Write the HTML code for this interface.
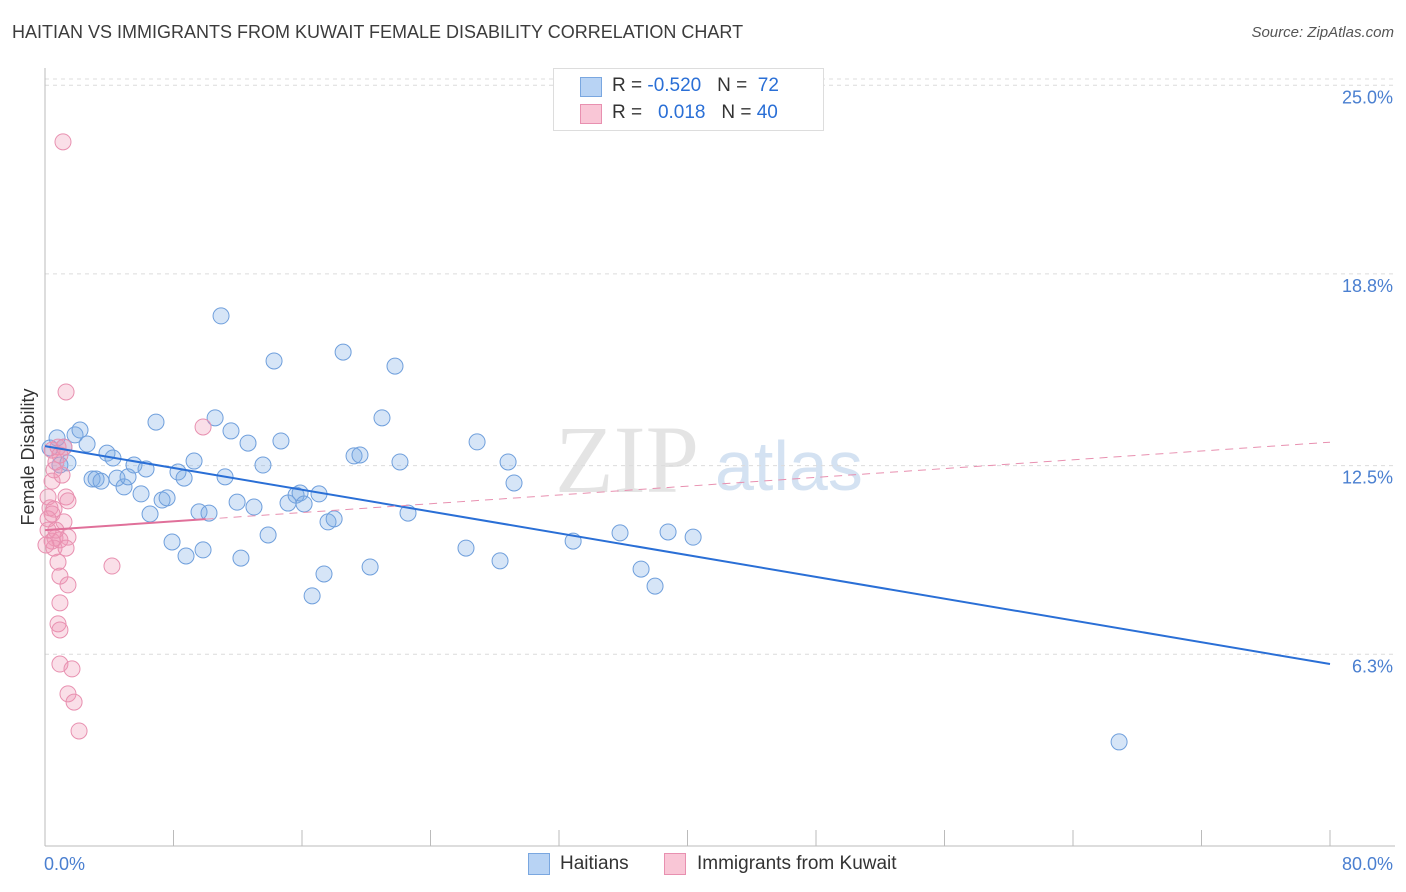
<!DOCTYPE html>
<html><head><meta charset="utf-8"><style>
body{margin:0;background:#fff;font-family:"Liberation Sans",sans-serif;}
#wrap{position:relative;width:1406px;height:892px;overflow:hidden;}
.t{position:absolute;white-space:nowrap;}
</style></head><body>
<div id="wrap">
<div class="t" style="left:12px;top:22px;font-size:18px;color:#3c3c3c;">HAITIAN VS IMMIGRANTS FROM KUWAIT FEMALE DISABILITY CORRELATION CHART</div>
<div class="t" style="right:12px;top:24px;font-size:15px;color:#555;font-style:italic;">Source: ZipAtlas.com</div>
<svg id="svg" width="1406" height="892" style="position:absolute;left:0;top:0"></svg>
</div>
<script>
const blueX=[0.31,0.75,0.93,1.18,1.43,1.87,2.18,2.62,2.93,3.18,3.49,3.86,4.23,4.48,4.92,5.17,5.54,5.98,6.29,6.54,6.91,7.29,7.60,7.91,8.28,8.66,8.78,9.28,9.59,9.84,10.21,10.59,10.96,11.21,11.58,11.96,12.20,12.64,13.01,13.57,13.89,14.26,14.69,15.13,15.63,15.88,16.13,16.63,17.06,17.37,17.62,18.00,18.56,19.24,19.61,20.24,20.98,21.79,22.10,22.60,26.21,26.90,28.33,28.83,29.20,32.88,35.80,37.11,37.98,38.79,40.35,66.87];
const blueY=[13.08,13.41,12.52,13.11,12.59,13.51,13.67,13.21,12.06,12.06,11.99,12.91,12.75,12.09,11.80,12.13,12.52,11.57,12.39,10.91,13.93,11.37,11.44,9.99,12.29,12.09,9.53,12.65,10.98,9.73,10.94,14.07,17.42,12.13,13.64,11.30,9.46,13.24,11.14,12.52,10.22,15.94,13.31,11.27,11.53,11.60,11.24,8.22,11.57,8.94,10.65,10.75,16.23,12.82,12.85,9.17,14.07,15.77,12.62,10.94,9.79,13.28,9.37,12.62,11.93,10.02,10.29,9.10,8.54,10.32,10.15,3.42];
const pinkX=[1.12,1.31,9.84,0.44,0.81,1.18,0.56,0.44,0.19,1.31,1.43,0.31,0.56,0.44,0.19,1.18,0.62,1.43,0.44,0.93,0.56,1.31,0.81,0.93,1.43,4.17,0.93,0.81,0.93,0.93,1.68,1.43,1.81,2.12,0.68,0.93,1.06,0.19,0.68,0.06];
const pinkY=[23.14,14.92,13.77,13.01,13.11,13.11,12.36,11.99,11.47,11.47,11.34,11.11,11.07,10.91,10.75,10.65,10.12,10.15,10.02,10.06,9.79,9.79,9.33,8.87,8.58,9.20,7.99,7.30,7.10,5.98,5.82,5.00,4.73,3.78,12.62,12.85,12.19,10.38,10.38,9.89];
const blueTrend=[13.14,5.98];
const pinkTrend=[10.38,13.27];
const yTicks=[25.0,18.8,12.5,6.3];
const yTickLabels=["25.0%","18.8%","12.5%","6.3%"];
const xLabels=["0.0%","80.0%"];
const NS="http://www.w3.org/2000/svg";
const svg=document.getElementById('svg');
const X=v=>45+v*(1285/80);
const Y=v=>846-v*30.43;
function mk(tag,attrs,parent){const e=document.createElementNS(NS,tag);for(const k in attrs)e.setAttribute(k,attrs[k]);(parent||svg).appendChild(e);return e;}
// watermark
let wm=mk('text',{x:555,y:492,'font-size':96,fill:'#e4e4e4','font-family':'Liberation Serif, serif'});wm.textContent='ZIP';


let wm2=mk('text',{x:715,y:490,'font-size':70,fill:'#d4e2f2','font-family':'Liberation Sans, sans-serif'});wm2.textContent='atlas';


// grid
yTicks.forEach((t,i)=>{
  const g=mk('line',{x1:45,x2:1395,y1:Y(t),y2:Y(t),stroke:'#dcdcdc','stroke-dasharray':'4,4'});
  
  
  const l=mk('text',{x:1393,y:Y(t)+18,'text-anchor':'end','font-size':18,fill:'#4a7fd0','font-family':'Liberation Sans, sans-serif'});
  l.textContent=yTickLabels[i];
  
  
});
const topLine=mk('line',{x1:45,x2:1395,y1:79,y2:79,stroke:'#dcdcdc','stroke-dasharray':'4,4'});


// axes
const ya=mk('line',{x1:45,x2:45,y1:68,y2:846,stroke:'#bbb'});


const xa=mk('line',{x1:45,x2:1395,y1:846,y2:846,stroke:'#bbb'});


for(let i=1;i<=10;i++){const tk=mk('line',{x1:X(i*8),x2:X(i*8),y1:830,y2:846,stroke:'#bbb'});

}
[[X(0)-1,'start',0],[1393,'end',1]].forEach(([x,a,i])=>{const l=mk('text',{x:x,y:870,'text-anchor':a,'font-size':18,fill:'#4a7fd0','font-family':'Liberation Sans, sans-serif'});l.textContent=xLabels[i];

});
const yt=mk('text',{x:34,y:457,'text-anchor':'middle','font-size':18,fill:'#333','font-family':'Liberation Sans, sans-serif',transform:'rotate(-90 34 457)'});yt.textContent='Female Disability';


// points
blueX.forEach((x,i)=>{const c=mk('circle',{cx:X(x),cy:Y(blueY[i]),r:8,fill:'rgba(120,170,230,0.3)',stroke:'#6f9fdc','stroke-width':1});

});
pinkX.forEach((x,i)=>{const c=mk('circle',{cx:X(x),cy:Y(pinkY[i]),r:8,fill:'rgba(240,150,180,0.3)',stroke:'#e890b0','stroke-width':1});

});
// trends
const bt=mk('line',{x1:X(0),y1:Y(blueTrend[0]),x2:X(80),y2:Y(blueTrend[1]),stroke:'#2a6fd6','stroke-width':2});


const pAt=v=>pinkTrend[0]+(pinkTrend[1]-pinkTrend[0])*v/80;
const pd=mk('line',{x1:X(10),y1:Y(pAt(10)),x2:X(80),y2:Y(pinkTrend[1]),stroke:'#e890b0','stroke-width':1,'stroke-dasharray':'8,6'});


const ps=mk('line',{x1:X(0),y1:Y(pinkTrend[0]),x2:X(10),y2:Y(pAt(10)),stroke:'#e0709a','stroke-width':2});


</script>
<div class="t" style="left:553px;top:68px;width:269px;height:61px;border:1px solid #ddd;background:#fff;">
 <div class="t" style="left:26px;top:8px;width:20px;height:18px;background:#b8d3f4;border:1px solid #7aa7e0;"></div>
 <div class="t" style="left:58px;top:6px;font-size:19px;color:#333;">R = <span style="color:#2a6fd6">-0.520</span>&nbsp;&nbsp;&nbsp;N = &nbsp;<span style="color:#2a6fd6">72</span></div>
 <div class="t" style="left:26px;top:35px;width:20px;height:18px;background:#f9c6d6;border:1px solid #e890b0;"></div>
 <div class="t" style="left:58px;top:33px;font-size:19px;color:#333;">R = &nbsp;&nbsp;<span style="color:#2a6fd6">0.018</span>&nbsp;&nbsp;&nbsp;N = <span style="color:#2a6fd6">40</span></div>
</div>
<div class="t" style="left:528px;top:853px;width:20px;height:20px;background:#b8d3f4;border:1px solid #7aa7e0;"></div>
<div class="t" style="left:560px;top:853px;font-size:19px;color:#333;">Haitians</div>
<div class="t" style="left:664px;top:853px;width:20px;height:20px;background:#f9c6d6;border:1px solid #e890b0;"></div>
<div class="t" style="left:697px;top:853px;font-size:19px;color:#333;">Immigrants from Kuwait</div>
</body></html>
